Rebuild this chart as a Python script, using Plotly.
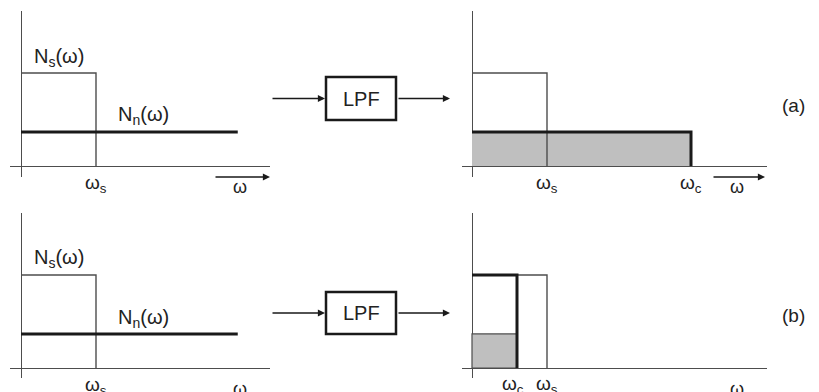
import plotly.graph_objects as go

# ---- data (normalised units: omega_s = 1, N_s level = 1) ----
omega_s = 1.0
omega_c_a = 2.92      # cutoff in case (a), above omega_s
omega_c_b = 0.60      # cutoff in case (b), below omega_s
Ns_level = 1.0
Nn_level = 0.366
Nn_extent = 2.89      # visible extent of the flat noise spectrum
panel_tags = ["(a)", "(b)"]

W, H = 819, 392
OFF = 8   # the page body margin shifts the figure by 8 px
FONT = "Liberation Sans, Arial, sans-serif"
THIN = "#4d4d4d"
THICK = "#1a1a1a"
GRAY = "#bfbfbf"

def px(x):
    return (x - OFF) / W

def py(y):
    return 1 - (y - OFF) / H

fig = go.Figure()

px_per_x = 75.0
px_per_y = 93.0
panels = [
    dict(l=10, r=270, t=11, b=177, ox=21, oy=166),   # top-left
    dict(l=462, r=767, t=11, b=177, ox=472, oy=166), # top-right
    dict(l=10, r=270, t=213, b=378, ox=21, oy=368),  # bottom-left
    dict(l=462, r=767, t=213, b=378, ox=472, oy=368),# bottom-right
]

for i, p in enumerate(panels, start=1):
    xa = "xaxis" if i == 1 else f"xaxis{i}"
    ya = "yaxis" if i == 1 else f"yaxis{i}"
    fig.layout[xa] = dict(
        domain=[px(p["l"]), px(p["r"])],
        range=[(p["l"] - p["ox"]) / px_per_x, (p["r"] - p["ox"]) / px_per_x],
        showgrid=False, showticklabels=False, ticks="",
        zeroline=True, zerolinecolor=THIN, zerolinewidth=1.3,
        showline=False, fixedrange=True,
        anchor="y" if i == 1 else f"y{i}",
    )
    fig.layout[ya] = dict(
        domain=[py(p["b"]), py(p["t"])],
        range=[(p["oy"] - p["b"]) / px_per_y, (p["oy"] - p["t"]) / px_per_y],
        showgrid=False, showticklabels=False, ticks="",
        zeroline=True, zerolinecolor=THIN, zerolinewidth=1.3,
        showline=False, fixedrange=True,
        anchor="x" if i == 1 else f"x{i}",
    )

def ax(i):
    return ("x" if i == 1 else f"x{i}", "y" if i == 1 else f"y{i}")

# ---- input spectra (left panels) ----
for i in (1, 3):
    xr, yr = ax(i)
    fig.add_trace(go.Scatter(x=[0, omega_s, omega_s], y=[Ns_level, Ns_level, 0],
                             mode="lines", line=dict(color=THIN, width=1.4),
                             xaxis=xr, yaxis=yr, hoverinfo="skip"))
    fig.add_trace(go.Scatter(x=[0, Nn_extent], y=[Nn_level, Nn_level],
                             mode="lines", line=dict(color=THICK, width=3),
                             xaxis=xr, yaxis=yr, hoverinfo="skip"))

# ---- output (a): cutoff above omega_s ----
xr, yr = ax(2)
fig.add_trace(go.Scatter(x=[0, 0, omega_c_a, omega_c_a, 0], y=[0, Nn_level, Nn_level, 0, 0],
                         mode="lines", fill="toself", fillcolor=GRAY,
                         line=dict(width=0, color=GRAY), xaxis=xr, yaxis=yr, hoverinfo="skip"))
fig.add_trace(go.Scatter(x=[0, omega_s, omega_s], y=[Ns_level, Ns_level, 0],
                         mode="lines", line=dict(color=THIN, width=1.4),
                         xaxis=xr, yaxis=yr, hoverinfo="skip"))
fig.add_trace(go.Scatter(x=[0, omega_c_a, omega_c_a], y=[Nn_level, Nn_level, 0],
                         mode="lines", line=dict(color=THICK, width=3),
                         xaxis=xr, yaxis=yr, hoverinfo="skip"))

# ---- output (b): cutoff below omega_s ----
xr, yr = ax(4)
fig.add_trace(go.Scatter(x=[0, 0, omega_c_b, omega_c_b, 0], y=[0, Nn_level, Nn_level, 0, 0],
                         mode="lines", fill="toself", fillcolor=GRAY,
                         line=dict(width=1.2, color=THIN), xaxis=xr, yaxis=yr, hoverinfo="skip"))
fig.add_trace(go.Scatter(x=[0, omega_s, omega_s], y=[Ns_level, Ns_level, 0],
                         mode="lines", line=dict(color=THIN, width=1.4),
                         xaxis=xr, yaxis=yr, hoverinfo="skip"))
fig.add_trace(go.Scatter(x=[0, omega_c_b, omega_c_b], y=[Ns_level, Ns_level, 0],
                         mode="lines", line=dict(color=THICK, width=3),
                         xaxis=xr, yaxis=yr, hoverinfo="skip"))

ann = []

def text(i, x, y_px, s, size=20, xanchor="center"):
    # x in data units of panel i, y as page pixel (paper reference)
    xr, _ = ax(i)
    ann.append(dict(xref=xr, yref="paper", x=x, y=py(y_px), text=s, showarrow=False,
                    xanchor=xanchor, yanchor="middle",
                    font=dict(family=FONT, size=size, color="#222")))

for i, dy in ((1, 0), (3, 202)):
    text(i, 0.15, 57 + dy, "N<sub>s</sub>(ω)", xanchor="left")
    text(i, 1.27, 116 + dy, "N<sub>n</sub>(ω)", xanchor="left")
    text(i, omega_s, 184 + dy, "ω<sub>s</sub>", size=19)
text(2, omega_s, 184, "ω<sub>s</sub>", size=19)
text(2, omega_c_a, 184, "ω<sub>c</sub>", size=19)
text(4, omega_c_b - 0.06, 385, "ω<sub>c</sub>", size=19)
text(4, omega_s, 385, "ω<sub>s</sub>", size=19)

# omega-direction arrows under each axis
for i, p in enumerate(panels, start=1):
    xr, yr = ax(i)
    left = p["l"] < 100
    x0 = 214 if left else 712
    x1 = 270 if left else 765
    yy = -11 / px_per_y
    ann.append(dict(xref=xr, yref=yr, axref="pixel", ayref="pixel",
                    x=(x1 - p["ox"]) / px_per_x, y=yy, ax=x0 - x1, ay=0,
                    showarrow=True, arrowhead=2, arrowsize=1.1, arrowwidth=1.3,
                    arrowcolor=THICK, text=""))
    text(i, ((240 if left else 737) - p["ox"]) / px_per_x, p["oy"] + 21, "ω", size=18)

# LPF blocks and arrows, panel tags
shapes = []
for k, (ytop, ybot, tag, tag_y) in enumerate([(77, 120, panel_tags[0], 105),
                                               (292, 334, panel_tags[1], 315)]):
    shapes.append(dict(type="rect", xref="paper", yref="paper",
                       x0=px(326), x1=px(396), y0=py(ybot), y1=py(ytop),
                       line=dict(color=THICK, width=2.5), fillcolor="white"))
    ym = (ytop + ybot) / 2
    ann.append(dict(xref="paper", yref="paper", x=px(361), y=py(ym), text="LPF",
                    xanchor="center", yanchor="middle",
                    showarrow=False, font=dict(family=FONT, size=20, color="#222")))
    for (a0, a1) in [(271, 325), (397, 450)]:
        ann.append(dict(xref="paper", yref="paper", axref="pixel", ayref="pixel",
                        x=px(a1), y=py(ym), ax=a0 - a1, ay=0, text="",
                        showarrow=True, arrowhead=2, arrowsize=1.1, arrowwidth=1.3,
                        arrowcolor=THICK))
    ann.append(dict(xref="paper", yref="paper", x=px(793), y=py(tag_y), text=tag,
                    xanchor="center", yanchor="middle",
                    showarrow=False, font=dict(family=FONT, size=19, color="#222")))

fig.update_layout(width=W, height=H, margin=dict(l=0, r=0, t=0, b=0),
                  paper_bgcolor="white", plot_bgcolor="white",
                  showlegend=False, annotations=ann, shapes=shapes)

fig.write_html("out.html")
